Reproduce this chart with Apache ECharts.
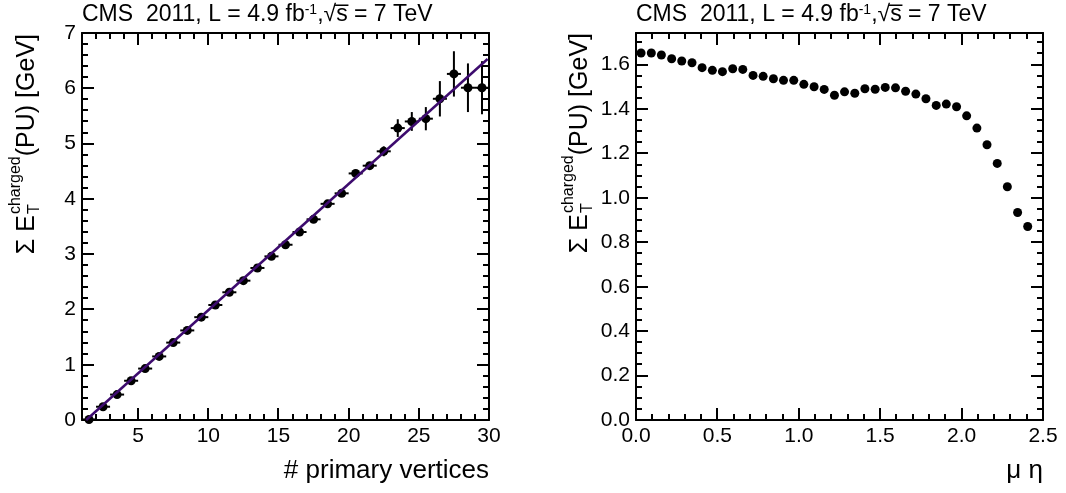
<!DOCTYPE html>
<html><head><meta charset="utf-8">
<script src="https://cdn.jsdelivr.net/npm/echarts@6/dist/echarts.min.js"></script>
<style>html,body{margin:0;padding:0;background:#fff}#c{width:1066px;height:493px}</style>
</head><body><div id="c"></div><script>
// ---------- data ----------
const nVertices = [1.5,2.5,3.5,4.5,5.5,6.5,7.5,8.5,9.5,10.5,11.5,12.5,13.5,14.5,15.5,16.5,17.5,18.5,19.5,20.5,21.5,22.5,23.5,24.5,25.5,26.5,27.5,28.5,29.5];
const etVsVertices = [0.01,0.24,0.46,0.71,0.93,1.15,1.40,1.62,1.86,2.08,2.31,2.52,2.75,2.96,3.17,3.40,3.63,3.91,4.10,4.46,4.60,4.86,5.28,5.40,5.45,5.81,6.26,6.01,6.01];
const etVsVerticesErr = [0.01,0.01,0.01,0.01,0.01,0.01,0.01,0.01,0.01,0.02,0.02,0.02,0.02,0.02,0.03,0.03,0.03,0.04,0.04,0.06,0.06,0.09,0.16,0.17,0.21,0.32,0.41,0.44,0.48];
const binHalfWidth = 0.5;
const fitLine = [[1.3, 0.0], [29.9, 6.53]];
const etaBins = [0.031,0.094,0.156,0.219,0.281,0.344,0.406,0.469,0.531,0.594,0.656,0.719,0.781,0.844,0.906,0.969,1.031,1.094,1.156,1.219,1.281,1.344,1.406,1.469,1.531,1.594,1.656,1.719,1.781,1.844,1.906,1.969,2.031,2.094,2.156,2.219,2.281,2.344,2.406];
const etVsEta = [1.652,1.652,1.643,1.626,1.616,1.608,1.586,1.574,1.568,1.581,1.578,1.551,1.547,1.536,1.529,1.529,1.511,1.500,1.488,1.462,1.477,1.471,1.491,1.489,1.497,1.495,1.480,1.467,1.446,1.416,1.422,1.410,1.369,1.314,1.239,1.155,1.050,0.934,0.871];
const leftXTicks = [5,10,15,20,25,30];
const leftYTicks = [0,1,2,3,4,5,6,7];
const rightXTicks = [0,0.5,1.0,1.5,2.0,2.5];
const rightYTicks = [0,0.2,0.4,0.6,0.8,1.0,1.2,1.4,1.6];
const titleMain = 'CMS  2011, L = 4.9 fb{sup|-1},\u221As\u0305 = 7 TeV';
const leftXTitle = '# primary vertices';
const rightXTitle = '\u03BC \u03B7';

// ---------- ranges & minor tick steps ----------
const leftXRange = [1, 30], leftYRange = [0, 7];
const rightXRange = [0, 2.5], rightYRange = [0, 1.742];
function steps(a, b, s) { const r = []; for (let k = 0; a + k * s <= b + 1e-9; k++) r.push(+(a + k * s).toFixed(4)); return r; }
const leftXMinor = steps(1, 30, 1), leftYMinor = steps(0, 7, 0.2);
const rightXMinor = steps(0, 2.5, 0.1), rightYMinor = steps(0, 1.7, 0.05);

// ---------- style ----------
const FONT = '"Liberation Sans", Arial, Helvetica, sans-serif';
const BLACK = '#000';
const FIT = '#3d0b6e';
const TICKFS = 21;
const MAJ = 12, MIN = 6;

function axis(o, ticks, fmt) {
  const a = Object.assign({
    type: 'value', splitLine: {show: false},
    axisLine: {show: true, onZero: false, lineStyle: {color: BLACK, width: 2}},
    axisTick: {show: false},
    axisLabel: {show: false},
    minorTick: {show: false},
    axisPointer: {show: false}
  }, o);
  if (fmt) {
    a.axisTick = {show: false, customValues: ticks};
    a.axisLabel = {show: true, customValues: ticks, fontSize: TICKFS, fontFamily: FONT, color: BLACK, margin: 6,
      formatter: fmt, showMinLabel: true, showMaxLabel: true};
  }
  return a;
}
const xTitleStyle = {fontSize: 26, fontFamily: FONT, color: BLACK, align: 'right', verticalAlign: 'top', padding: [38, 0, 0, 0]};

const xAxes = [
  axis({gridIndex: 0, position: 'bottom', min: leftXRange[0], max: leftXRange[1], name: leftXTitle, nameLocation: 'end', nameGap: 0, nameTextStyle: xTitleStyle}, leftXTicks, v => String(v)),
  axis({gridIndex: 0, position: 'top', min: leftXRange[0], max: leftXRange[1]}),
  axis({gridIndex: 1, position: 'bottom', min: rightXRange[0], max: rightXRange[1], name: rightXTitle, nameLocation: 'end', nameGap: 0, nameTextStyle: xTitleStyle}, rightXTicks, v => v.toFixed(1)),
  axis({gridIndex: 1, position: 'top', min: rightXRange[0], max: rightXRange[1]})
];
const yAxes = [
  axis({gridIndex: 0, position: 'left', min: leftYRange[0], max: leftYRange[1]}, leftYTicks, v => String(v)),
  axis({gridIndex: 0, position: 'right', min: leftYRange[0], max: leftYRange[1]}),
  axis({gridIndex: 1, position: 'left', min: rightYRange[0], max: rightYRange[1]}, rightYTicks, v => v.toFixed(1)),
  axis({gridIndex: 1, position: 'right', min: rightYRange[0], max: rightYRange[1]})
];

// ---------- inward ticks on all four sides (positions via the axes' scales) ----------
function tickRows(xMaj, xMin, yMaj, yMin) {
  const rows = [];
  xMin.forEach(v => rows.push([0, v, MIN])); xMaj.forEach(v => rows.push([0, v, MAJ]));
  yMin.forEach(v => rows.push([1, v, MIN])); yMaj.forEach(v => rows.push([1, v, MAJ]));
  return rows;
}
function tickSeries(xi, yi, xr, yr, rows) {
  return {
    type: 'custom', xAxisIndex: xi, yAxisIndex: yi, silent: true, clip: false, data: rows,
    renderItem: function (params, api) {
      const o = api.value(0), v = api.value(1), L = api.value(2);
      const st = {stroke: BLACK, lineWidth: 2};
      if (o === 0) {
        const b = api.coord([v, yr[0]]), t = api.coord([v, yr[1]]);
        const x = Math.round(b[0]);
        return {type: 'group', children: [
          {type: 'line', shape: {x1: x, y1: b[1], x2: x, y2: b[1] - L}, style: st},
          {type: 'line', shape: {x1: x, y1: t[1], x2: x, y2: t[1] + L}, style: st}]};
      }
      const l = api.coord([xr[0], v]), r = api.coord([xr[1], v]);
      const y = Math.round(l[1]);
      return {type: 'group', children: [
        {type: 'line', shape: {x1: l[0], y1: y, x2: l[0] + L, y2: y}, style: st},
        {type: 'line', shape: {x1: r[0], y1: y, x2: r[0] - L, y2: y}, style: st}]};
    }
  };
}

// ---------- y-axis titles (Σ E_T^charged(PU) [GeV]) ----------
const cv = document.createElement('canvas').getContext('2d');
function tw(t, fs) { cv.font = fs + 'px ' + FONT; return cv.measureText(t).width; }
function yTitle(cx, topY) {
  const FS = 25, SFS = 16;
  const p1 = '\u03A3 E', p2 = '(PU) [GeV]';
  const w1 = tw(p1, FS), ws = tw('charged', SFS), w2 = tw(p2, FS);
  const L = w1 + 1 + ws + w2;
  const ts = {fill: BLACK, fontFamily: FONT, verticalAlign: 'middle', align: 'left'};
  return {
    type: 'group', x: cx, y: topY + L, rotation: Math.PI / 2,
    children: [
      {type: 'text', x: 0, y: 0, style: Object.assign({text: p1, fontSize: FS}, ts)},
      {type: 'text', x: w1 + 1, y: 8, style: Object.assign({text: 'T', fontSize: SFS}, ts)},
      {type: 'text', x: w1 + 1, y: -11, style: Object.assign({text: 'charged', fontSize: SFS}, ts)},
      {type: 'text', x: w1 + 1 + ws, y: 0, style: Object.assign({text: p2, fontSize: FS}, ts)}
    ]
  };
}

const titleStyle = {fontSize: 23, fontFamily: FONT, color: BLACK, fontWeight: 'normal',
  rich: {sup: {fontSize: 14, fontFamily: FONT, color: BLACK, verticalAlign: 'top'}}};

const option = {
  animation: false,
  backgroundColor: '#fff',
  title: [
    {text: titleMain, left: 82, top: 3, padding: 0, textStyle: titleStyle},
    {text: titleMain, left: 636, top: 3, padding: 0, textStyle: titleStyle}
  ],
  grid: [
    {left: 82, right: 577, top: 33, bottom: 73},
    {left: 636, right: 23, top: 33, bottom: 73}
  ],
  xAxis: xAxes,
  yAxis: yAxes,
  graphic: [yTitle(27, 34), yTitle(580, 33)],
  series: [
    tickSeries(0, 0, leftXRange, leftYRange, tickRows(leftXTicks, leftXMinor, leftYTicks, leftYMinor)),
    tickSeries(2, 2, rightXRange, rightYRange, tickRows(rightXTicks, rightXMinor, rightYTicks, rightYMinor)),
    {
      type: 'custom', xAxisIndex: 0, yAxisIndex: 0, silent: true,
      data: nVertices.map((x, i) => [x, etVsVertices[i], etVsVerticesErr[i]]),
      renderItem: function (params, api) {
        const x = api.value(0), y = api.value(1), e = api.value(2);
        const pL = api.coord([x - binHalfWidth, y]), pR = api.coord([x + binHalfWidth, y]);
        const pT = api.coord([x, y + e]), pB = api.coord([x, y - e]);
        const st = {stroke: BLACK, lineWidth: 2};
        return {type: 'group', children: [
          {type: 'line', shape: {x1: pL[0], y1: pL[1], x2: pR[0], y2: pR[1]}, style: st},
          {type: 'line', shape: {x1: pT[0], y1: pT[1], x2: pB[0], y2: pB[1]}, style: st}
        ]};
      }
    },
    {
      type: 'scatter', xAxisIndex: 0, yAxisIndex: 0, symbol: 'circle', symbolSize: 9, silent: true,
      itemStyle: {color: BLACK, opacity: 1}, data: nVertices.map((x, i) => [x, etVsVertices[i]])
    },
    {
      type: 'line', xAxisIndex: 0, yAxisIndex: 0, symbol: 'none', data: fitLine, silent: true,
      lineStyle: {color: FIT, width: 2.5}
    },
    {
      type: 'scatter', xAxisIndex: 2, yAxisIndex: 2, symbol: 'circle', symbolSize: 9, silent: true,
      itemStyle: {color: BLACK, opacity: 1}, data: etaBins.map((x, i) => [x, etVsEta[i]])
    }
  ]
};
const chart = echarts.init(document.getElementById('c'));
chart.setOption(option);
</script></body></html>
